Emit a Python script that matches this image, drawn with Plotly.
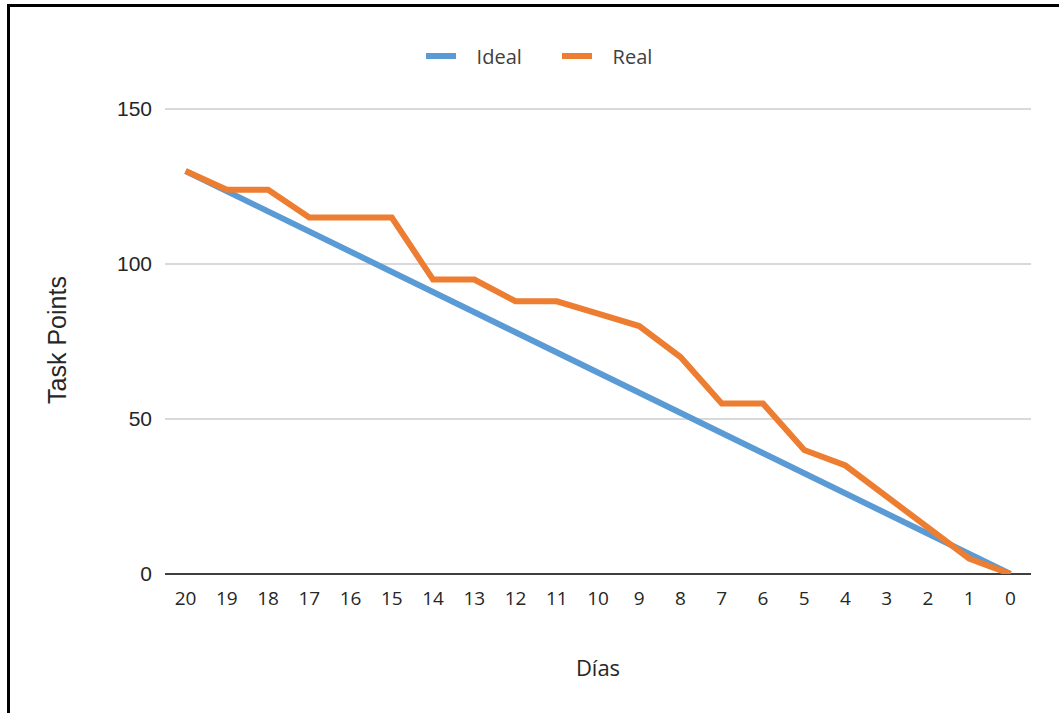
import plotly.graph_objects as go

# Sprint burndown data
dias = ["20", "19", "18", "17", "16", "15", "14", "13", "12", "11", "10",
        "9", "8", "7", "6", "5", "4", "3", "2", "1", "0"]
ideal = [130, 123.5, 117, 110.5, 104, 97.5, 91, 84.5, 78, 71.5, 65,
         58.5, 52, 45.5, 39, 32.5, 26, 19.5, 13, 6.5, 0]
real = [130, 124, 124, 115, 115, 115, 95, 95, 88, 88, 84,
        80, 70, 55, 55, 40, 35, 25, 15, 5, 0]

W, H = 1059, 713
ML, MR, MT, MB = 165, 28, 106, 139
PW, PH = W - ML - MR, H - MT - MB
YMAX = 151


def px_x(px):
    return (px - ML) / PW


def px_y(py):
    return (H - MB - py) / PH


NB = "\u00a0" * 3  # gap between legend swatch and label

fig = go.Figure()
fig.add_trace(go.Scatter(x=dias, y=ideal, name=NB + "Ideal", mode="lines",
                         line=dict(color="#5B9BD5", width=6)))
fig.add_trace(go.Scatter(x=dias, y=real, name=NB + "Real", mode="lines",
                         line=dict(color="#ED7D31", width=6)))

# frame lines along the top and left edges
fig.add_shape(type="line", xref="paper", yref="paper",
              x0=px_x(7), x1=px_x(1070), y0=px_y(5.5), y1=px_y(5.5),
              line=dict(color="black", width=3))
fig.add_shape(type="line", xref="paper", yref="paper",
              x0=px_x(8.5), x1=px_x(8.5), y0=px_y(4), y1=px_y(720),
              line=dict(color="black", width=3))

fig.update_layout(
    width=W, height=H,
    margin=dict(l=ML, r=MR, t=MT, b=MB, autoexpand=False),
    paper_bgcolor="white", plot_bgcolor="white",
    showlegend=True,
    legend=dict(orientation="h", x=px_x(421), xanchor="left",
                y=px_y(56), yanchor="middle",
                font=dict(family="Open Sans", size=20, color="#404040"),
                itemwidth=30, entrywidth=91, traceorder="normal"),
    xaxis=dict(type="category", range=[-0.5, 20.5], showgrid=False,
               showline=False, zeroline=False, ticks="",
               tickfont=dict(family="Open Sans", size=19, color="#262626"),
               ticklabelstandoff=11,
               title=dict(text="Días", standoff=50,
                          font=dict(family="Open Sans", size=22, color="#262626"))),
    yaxis=dict(range=[0, YMAX], tickvals=[0, 50, 100, 150],
               showgrid=True, gridcolor="#D9D9D9", gridwidth=2,
               zeroline=True, zerolinecolor="#404040", zerolinewidth=2,
               showline=False, ticks="",
               tickfont=dict(family="Liberation Sans", size=21, color="#262626"),
               ticklabelstandoff=12,
               title=dict(text="Task Points", standoff=43,
                          font=dict(family="Liberation Sans", size=25, color="#262626"))),
)

fig.write_html("out.html")
